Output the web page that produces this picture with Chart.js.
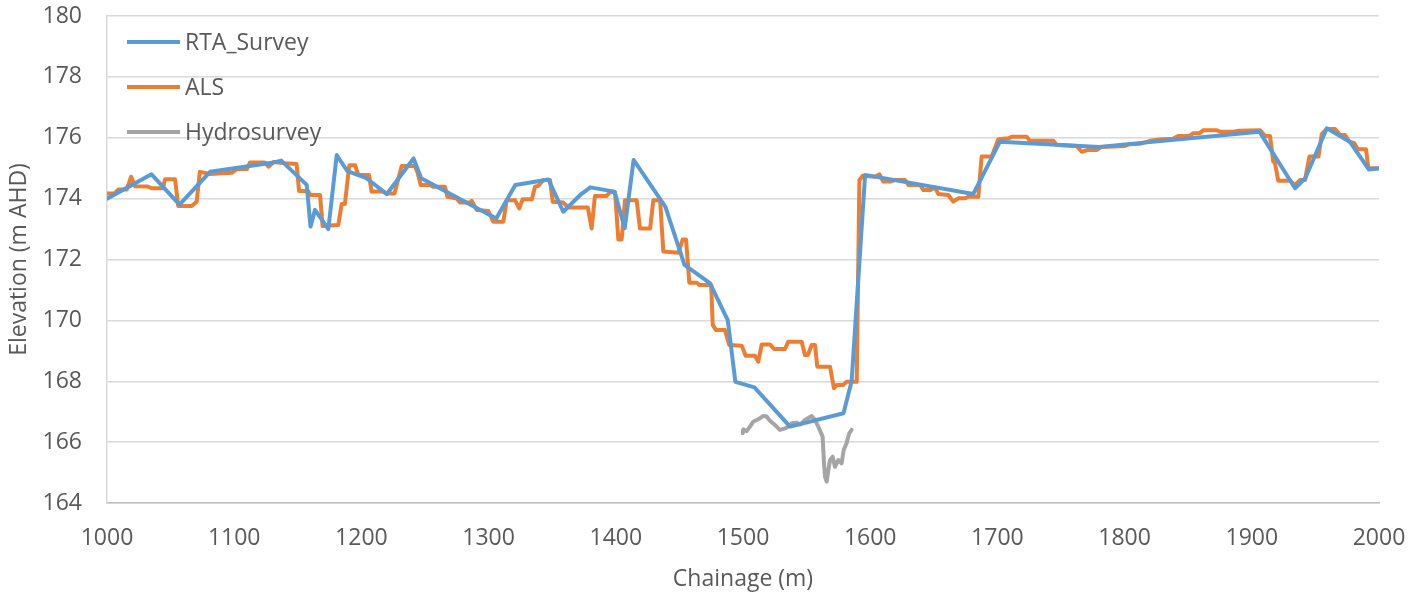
<!DOCTYPE html>
<html>
<head>
<meta charset="utf-8">
<script src="https://cdn.jsdelivr.net/npm/chart.js@4.4.1/dist/chart.umd.min.js"></script>
<style>
  html, body { margin: 0; padding: 0; background: #fff; }
  #wrap { width: 1425px; height: 599px; }
</style>
</head>
<body>
<div id="wrap"><canvas id="profile" width="1425" height="599"></canvas></div>
<script>
// Chainage / elevation values
const rtaChainage = [1000, 1035, 1057, 1081, 1131, 1137, 1157, 1160, 1163.5, 1174, 1180.6, 1189, 1204, 1220, 1241, 1247, 1306, 1321, 1347, 1358.7, 1372, 1380, 1399, 1407, 1414, 1439, 1454, 1474, 1488, 1494, 1509, 1537, 1579, 1585.4, 1596, 1681, 1702, 1780, 1906, 1934, 1942, 1959, 1977, 1992, 2000];
const rtaElev = [174.0, 174.8, 173.8, 174.88, 175.19, 175.25, 174.45, 173.08, 173.63, 173.0, 175.43, 174.9, 174.67, 174.15, 175.32, 174.67, 173.35, 174.45, 174.63, 173.57, 174.12, 174.37, 174.23, 173.03, 175.27, 173.73, 171.82, 171.22, 170.01, 167.98, 167.8, 166.51, 166.95, 168.0, 174.78, 174.15, 175.87, 175.7, 176.2, 174.34, 174.67, 176.31, 175.87, 174.96, 174.99];

const alsChainage = [1000, 1006, 1009, 1015.5, 1019, 1022, 1032, 1035, 1044, 1045.6, 1053.5, 1056, 1066.6, 1070.5, 1073, 1081, 1098, 1102, 1110, 1112.4, 1124, 1127, 1131, 1140, 1149, 1151, 1158, 1160, 1167.5, 1169.5, 1181.8, 1184.5, 1187, 1190.5, 1195, 1197.6, 1206, 1208, 1217, 1220, 1226, 1231.7, 1242, 1244, 1246.6, 1254, 1256.5, 1265.7, 1267.6, 1275, 1277.5, 1285.4, 1286.7, 1290.6, 1299.8, 1303.7, 1311.6, 1314.2, 1320.8, 1324.1, 1326.8, 1334, 1336.5, 1339, 1343, 1348.3, 1350.4, 1358.7, 1362.7, 1378, 1381, 1383.6, 1392.8, 1395.4, 1399.4, 1402, 1404.6, 1407.2, 1416.4, 1419, 1427, 1429.5, 1434.8, 1437.4, 1449.2, 1452.6, 1455.2, 1457.8, 1463.6, 1465.7, 1475, 1476.2, 1478.8, 1485.8, 1489.2, 1499, 1502.1, 1509.4, 1512, 1514.7, 1521.2, 1524.4, 1533, 1535.6, 1546.1, 1548.7, 1551, 1554, 1556.6, 1558.4, 1568.4, 1571.5, 1573.6, 1578.8, 1581.4, 1589.4, 1591.5, 1594, 1603.8, 1607.2, 1610.3, 1615.6, 1619.5, 1627.4, 1630, 1639.2, 1641.8, 1647, 1651, 1653.6, 1661.4, 1665.3, 1669.3, 1674.5, 1677.1, 1685, 1687.6, 1695.5, 1700.7, 1708.6, 1711.2, 1723, 1725.6, 1744, 1746.6, 1762.3, 1766.3, 1771.5, 1778, 1782, 1800.3, 1804, 1812, 1820, 1828, 1838, 1842, 1851, 1854, 1859, 1862, 1872, 1875, 1885.5, 1890, 1906.4, 1910.4, 1914.3, 1916.9, 1918, 1920.8, 1930, 1934, 1938, 1941.8, 1945.3, 1952.4, 1955, 1958.9, 1965.5, 1969.4, 1973.3, 1976.7, 1980.6, 1983.3, 1989.8, 1991.6, 2000];
const alsElev = [174.17, 174.17, 174.3, 174.3, 174.72, 174.41, 174.4, 174.34, 174.34, 174.64, 174.64, 173.76, 173.76, 173.9, 174.88, 174.81, 174.85, 174.97, 174.97, 175.19, 175.19, 175.05, 175.2, 175.16, 175.14, 174.25, 174.25, 174.12, 174.12, 173.1, 173.13, 173.82, 173.82, 175.1, 175.1, 174.78, 174.78, 174.23, 174.23, 174.17, 174.17, 175.07, 175.07, 174.88, 174.45, 174.45, 174.39, 174.39, 174.06, 174.0, 173.87, 173.87, 173.93, 173.63, 173.59, 173.24, 173.24, 173.95, 173.95, 173.68, 173.98, 173.98, 174.39, 174.42, 174.61, 174.61, 173.9, 173.87, 173.71, 173.71, 173.02, 174.09, 174.09, 174.21, 174.21, 172.66, 172.66, 173.95, 173.95, 173.02, 173.02, 173.95, 173.95, 172.26, 172.22, 172.66, 172.66, 171.24, 171.24, 171.16, 171.16, 169.85, 169.68, 169.68, 169.19, 169.17, 168.84, 168.84, 168.64, 169.21, 169.21, 169.06, 169.06, 169.3, 169.3, 168.86, 168.86, 169.19, 169.19, 168.48, 168.48, 167.77, 167.88, 167.88, 167.98, 167.98, 174.6, 174.75, 174.72, 174.8, 174.56, 174.56, 174.61, 174.61, 174.45, 174.45, 174.28, 174.28, 174.36, 174.15, 174.12, 173.9, 174.01, 174.01, 174.06, 174.06, 175.38, 175.38, 175.95, 175.98, 176.03, 176.03, 175.9, 175.9, 175.76, 175.73, 175.54, 175.6, 175.6, 175.7, 175.73, 175.79, 175.8, 175.9, 175.94, 175.97, 176.06, 176.06, 176.15, 176.15, 176.25, 176.25, 176.2, 176.2, 176.23, 176.25, 176.06, 176.06, 175.21, 175.21, 174.59, 174.59, 174.45, 174.61, 174.61, 175.38, 175.38, 176.12, 176.29, 176.29, 176.09, 176.09, 175.87, 175.82, 175.62, 175.62, 175.0, 175.0];

const hydroChainage = [1499.8, 1500.2, 1502.9, 1505.5, 1508, 1512, 1516, 1518.6, 1521.2, 1525.2, 1529, 1533, 1535.6, 1538.3, 1542, 1545, 1548.7, 1554, 1556.6, 1559.2, 1562.6, 1563.7, 1564.5, 1565.8, 1567.1, 1568.4, 1570.5, 1572.3, 1574.9, 1577.5, 1579.2, 1581.4, 1583.5, 1585.4];
const hydroElev = [166.29, 166.42, 166.36, 166.51, 166.67, 166.75, 166.86, 166.84, 166.7, 166.56, 166.4, 166.45, 166.51, 166.62, 166.64, 166.58, 166.73, 166.86, 166.73, 166.51, 166.18, 165.3, 164.86, 164.7, 165.08, 165.41, 165.52, 165.19, 165.41, 165.3, 165.74, 165.96, 166.29, 166.4];

const xTicks = [1000, 1100, 1200, 1300, 1400, 1500, 1600, 1700, 1800, 1900, 2000];
const yTicks = [164, 166, 168, 170, 172, 174, 176, 178, 180];

const seriesNames = ['RTA_Survey', 'ALS', 'Hydrosurvey'];
const seriesColors = ['#5B9BD5', '#ED7D31', '#A5A5A5'];

function toPoints(xs, ys) {
    return xs.map((x, i) => ({ x: x, y: ys[i] }));
}

const textColor = '#595959';
const fontFamily = '"Open Sans", "Liberation Sans", sans-serif';
const fontSize = 23;

// Legend sits inside the plot, top-left, like the Excel original
const insideLegend = {
    id: 'insideLegend',
    afterDatasetsDraw(chart) {
        const ctx = chart.ctx;
        const area = chart.chartArea;
        ctx.save();
        ctx.font = fontSize + 'px ' + fontFamily;
        ctx.textBaseline = 'middle';
        seriesNames.forEach((name, i) => {
            const y = area.top + 26 + i * 45;
            ctx.strokeStyle = seriesColors[i];
            ctx.lineWidth = 4;
            ctx.beginPath();
            ctx.moveTo(area.left + 20, y);
            ctx.lineTo(area.left + 73, y);
            ctx.stroke();
            ctx.fillStyle = textColor;
            ctx.fillText(name, area.left + 78, y + 1);
        });
        ctx.restore();
    }
};

const ctxProfile = document.getElementById('profile');
new Chart(ctxProfile, {
    type: 'line',
    data: {
        datasets: [
            { label: seriesNames[0], data: toPoints(rtaChainage, rtaElev), borderColor: seriesColors[0] },
            { label: seriesNames[1], data: toPoints(alsChainage, alsElev), borderColor: seriesColors[1] },
            { label: seriesNames[2], data: toPoints(hydroChainage, hydroElev), borderColor: seriesColors[2] }
        ]
    },
    options: {
        responsive: false,
        animation: false,
        layout: { padding: { left: 0, right: 46, top: 16, bottom: 0 } },
        elements: {
            point: { radius: 0 },
            line: { borderWidth: 4, tension: 0, borderJoinStyle: 'round', borderCapStyle: 'round', fill: false }
        },
        plugins: {
            legend: { display: false },
            tooltip: { enabled: false }
        },
        scales: {
            x: {
                type: 'linear',
                min: 1000,
                max: 2000,
                afterFit: (scale) => { scale.height = 96; scale.paddingLeft = 0; scale.paddingRight = 0; },
                afterBuildTicks: (scale) => { scale.ticks = xTicks.map(v => ({ value: v })); },
                grid: { display: false, drawTicks: false },
                border: { display: true, color: '#BFBFBF', width: 1.5 },
                ticks: { color: textColor, font: { family: fontFamily, size: fontSize }, padding: 22, maxRotation: 0, callback: (v) => String(v) },
                title: { display: true, text: 'Chainage (m)', color: textColor, font: { family: fontFamily, size: fontSize }, padding: { top: 0, bottom: 6 } }
            },
            y: {
                min: 164,
                max: 180,
                afterFit: (scale) => { scale.width = 107; scale.paddingTop = 0; scale.paddingBottom = 0; },
                afterBuildTicks: (scale) => { scale.ticks = yTicks.map(v => ({ value: v })); },
                grid: { color: '#D9D9D9', lineWidth: 1.5, drawTicks: false },
                border: { display: true, color: '#D9D9D9', width: 1.5 },
                ticks: { color: textColor, font: { family: fontFamily, size: fontSize }, padding: 25, callback: (v) => String(v) },
                title: { display: true, text: 'Elevation (m AHD)', color: textColor, font: { family: fontFamily, size: fontSize }, padding: { top: 6, bottom: 4 } }
            }
        }
    },
    plugins: [insideLegend]
});
</script>
</body>
</html>
